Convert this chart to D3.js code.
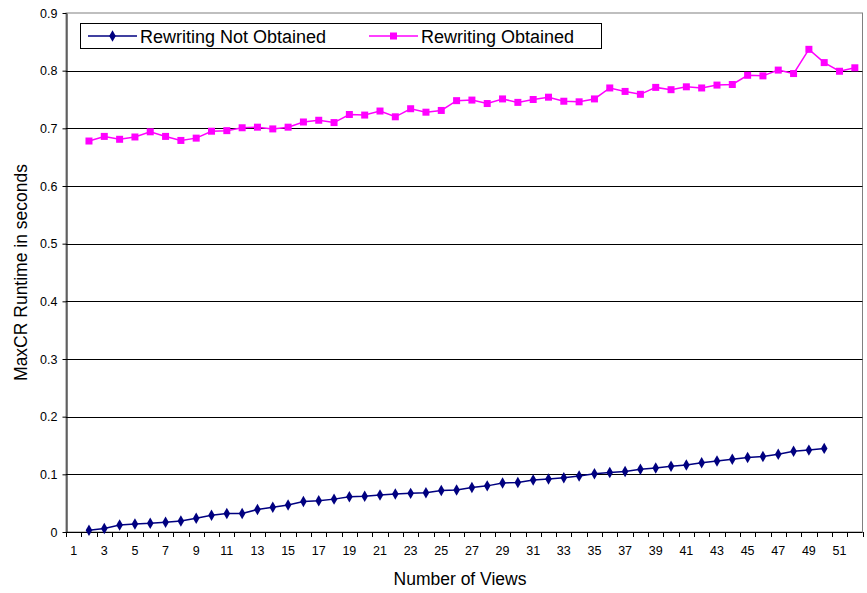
<!DOCTYPE html>
<html>
<head>
<meta charset="utf-8">
<script src="https://cdn.jsdelivr.net/npm/d3@7"></script>
<style>
  html, body { margin: 0; padding: 0; background: #fff; }
  svg { display: block; font-family: "Liberation Sans", Arial, sans-serif; }
</style>
</head>
<body>
<svg id="chart" width="867" height="593"></svg>
<script>
// Number of views (category axis 1..52)
const views = d3.range(1, 53);

// Runtime (s) when rewriting is not obtained, views 2..50
const notObtained = [
  0.003, 0.006, 0.012, 0.014, 0.015, 0.017, 0.019, 0.024, 0.029, 0.032,
  0.032, 0.039, 0.043, 0.047, 0.053, 0.054, 0.057, 0.061, 0.062, 0.064,
  0.066, 0.067, 0.068, 0.072, 0.073, 0.077, 0.080, 0.085, 0.086, 0.090,
  0.092, 0.094, 0.097, 0.101, 0.103, 0.105, 0.109, 0.111, 0.114, 0.116,
  0.120, 0.123, 0.126, 0.129, 0.131, 0.135, 0.140, 0.142, 0.145
];

// Runtime (s) when rewriting is obtained, views 2..52
const obtained = [
  0.678, 0.686, 0.681, 0.685, 0.694, 0.686, 0.679, 0.683, 0.695, 0.696,
  0.701, 0.702, 0.699, 0.702, 0.711, 0.714, 0.710, 0.724, 0.723, 0.730,
  0.720, 0.734, 0.728, 0.731, 0.748, 0.749, 0.743, 0.751, 0.745, 0.750,
  0.754, 0.747, 0.746, 0.751, 0.770, 0.764, 0.759, 0.771, 0.767, 0.772,
  0.770, 0.775, 0.776, 0.792, 0.791, 0.801, 0.795, 0.837, 0.814, 0.799,
  0.805
];

const yTicks = [0, 0.1, 0.2, 0.3, 0.4, 0.5, 0.6, 0.7, 0.8, 0.9];
const seriesNames = ["Rewriting Not Obtained", "Rewriting Obtained"];

const svg = d3.select("#chart");
const plot = { left: 66, right: 862.5, top: 13, bottom: 532 };

const x = d3.scaleBand().domain(views).range([plot.left, plot.right]).padding(0);
const y = d3.scaleLinear().domain([0, 0.9]).range([plot.bottom, plot.top]);
const cx = v => x(v) + x.bandwidth() / 2;

// Plot area frame
svg.append("rect")
  .attr("x", plot.left).attr("y", plot.top)
  .attr("width", plot.right - plot.left).attr("height", plot.bottom - plot.top)
  .attr("fill", "none").attr("stroke", "#808080").attr("stroke-width", 1);

// Horizontal gridlines
svg.append("g")
  .selectAll("line")
  .data(yTicks.filter(t => t > 0 && t < 0.9))
  .join("line")
  .attr("x1", plot.left).attr("x2", plot.right)
  .attr("y1", d => Math.round(y(d)) + 0.5).attr("y2", d => Math.round(y(d)) + 0.5)
  .attr("stroke", "#000").attr("stroke-width", 1);

// Y axis
const yAxis = svg.append("g")
  .attr("transform", `translate(${plot.left + 0.5},0)`)
  .call(d3.axisLeft(y).tickValues(yTicks).tickFormat(d => d === 0 ? "0" : d3.format(".1f")(d)).tickSizeInner(4).tickSizeOuter(0).tickPadding(5));
yAxis.select(".domain").attr("stroke", "#000");
yAxis.selectAll("line").attr("stroke", "#000");
yAxis.selectAll("text").attr("font-size", 12.5).attr("fill", "#000")
  .attr("font-family", "'Liberation Sans', Arial, sans-serif");

// X axis: ticks on category boundaries, labels on odd categories
const xg = svg.append("g").attr("class", "x-axis");
xg.append("line")
  .attr("x1", plot.left).attr("x2", plot.right)
  .attr("y1", plot.bottom + 0.5).attr("y2", plot.bottom + 0.5)
  .attr("stroke", "#000");
const boundaries = views.map(v => x(v)).concat([x(views[views.length - 1]) + x.bandwidth()]);
xg.selectAll("line.tick")
  .data(boundaries)
  .join("line")
  .attr("class", "tick")
  .attr("x1", d => Math.round(d) + 0.5).attr("x2", d => Math.round(d) + 0.5)
  .attr("y1", plot.bottom).attr("y2", plot.bottom + 5)
  .attr("stroke", "#000");
xg.selectAll("text")
  .data(views.filter(v => v % 2 === 1))
  .join("text")
  .attr("x", d => cx(d))
  .attr("y", plot.bottom + 23)
  .attr("text-anchor", "middle")
  .attr("font-size", 12.5)
  .text(d => d);

// Axis titles
svg.append("text")
  .attr("x", 460).attr("y", 585)
  .attr("text-anchor", "middle").attr("font-size", 17.5)
  .text("Number of Views");
svg.append("text")
  .attr("transform", `translate(27,${(plot.top + plot.bottom) / 2}) rotate(-90)`)
  .attr("text-anchor", "middle").attr("font-size", 17.5)
  .text("MaxCR Runtime in seconds");

// Series
const blue = "#000080", pink = "#FF00FF";
const dataBlue = notObtained.map((v, i) => ({ x: i + 2, y: v }));
const dataPink = obtained.map((v, i) => ({ x: i + 2, y: v }));
const line = d3.line().x(d => cx(d.x)).y(d => y(d.y));

svg.append("path").datum(dataBlue).attr("d", line)
  .attr("fill", "none").attr("stroke", blue).attr("stroke-width", 1.5);
svg.append("path").datum(dataPink).attr("d", line)
  .attr("fill", "none").attr("stroke", pink).attr("stroke-width", 1.5);

const diamond = d3.symbol().type(d3.symbolDiamond).size(38);
svg.append("g").selectAll("path")
  .data(dataBlue).join("path")
  .attr("d", diamond)
  .attr("transform", d => `translate(${cx(d.x)},${y(d.y)})`)
  .attr("fill", blue);

svg.append("g").selectAll("rect")
  .data(dataPink).join("rect")
  .attr("x", d => cx(d.x) - 3.5).attr("y", d => y(d.y) - 3.5)
  .attr("width", 7).attr("height", 7)
  .attr("fill", pink);

// Legend
const lg = svg.append("g");
lg.append("rect")
  .attr("x", 80.5).attr("y", 23.5).attr("width", 521).attr("height", 25)
  .attr("fill", "#fff").attr("stroke", "#000").attr("stroke-width", 1);
const legendItems = [
  { name: seriesNames[0], color: blue, x0: 88, shape: "diamond" },
  { name: seriesNames[1], color: pink, x0: 369, shape: "square" }
];
legendItems.forEach(it => {
  const g = lg.append("g");
  g.append("line")
    .attr("x1", it.x0).attr("x2", it.x0 + 49).attr("y1", 36).attr("y2", 36)
    .attr("stroke", it.color).attr("stroke-width", 1.5);
  if (it.shape === "diamond") {
    g.append("path").attr("d", diamond)
      .attr("transform", `translate(${it.x0 + 24.5},36)`).attr("fill", it.color);
  } else {
    g.append("rect").attr("x", it.x0 + 21).attr("y", 32.5)
      .attr("width", 7).attr("height", 7).attr("fill", it.color);
  }
  g.append("text")
    .attr("x", it.x0 + 52).attr("y", 42.5)
    .attr("font-size", 18)
    .text(it.name);
});
</script>
</body>
</html>
